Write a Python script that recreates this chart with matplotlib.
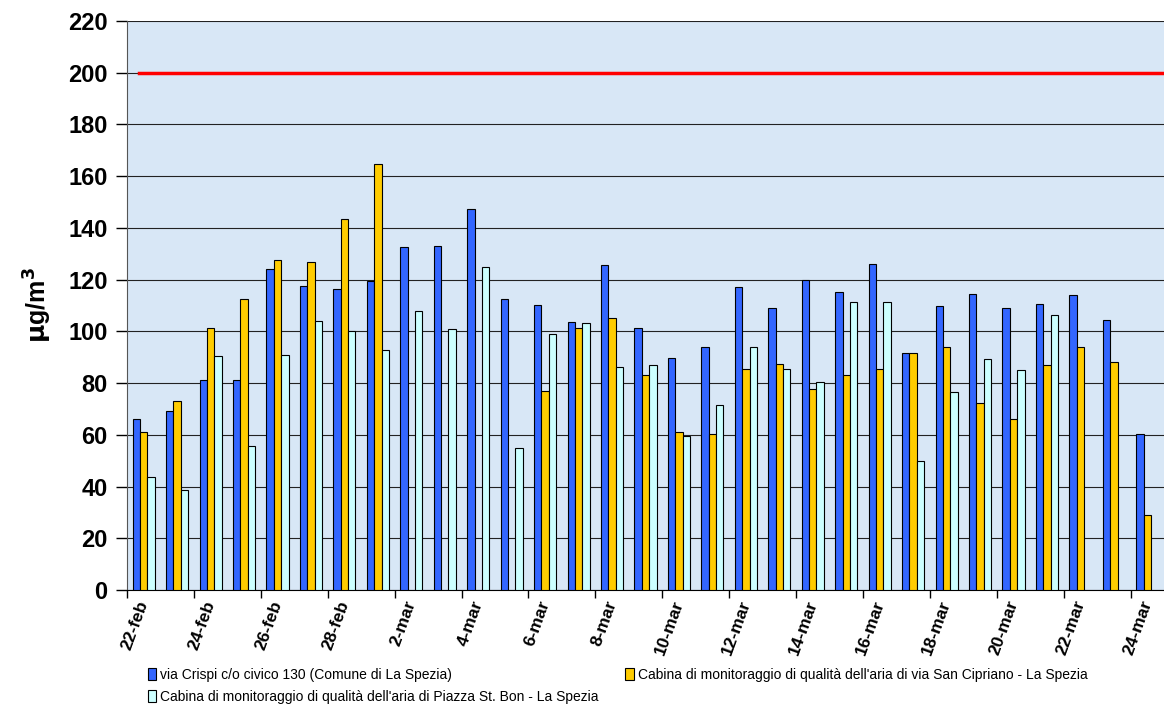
import matplotlib
matplotlib.use('Agg')
import matplotlib.pyplot as plt
import numpy as np

### dati ###
giorni = ['22-feb', '23-feb', '24-feb', '25-feb', '26-feb', '27-feb', '28-feb',
          '1-mar', '2-mar', '3-mar', '4-mar', '5-mar', '6-mar', '7-mar', '8-mar',
          '9-mar', '10-mar', '11-mar', '12-mar', '13-mar', '14-mar', '15-mar',
          '16-mar', '17-mar', '18-mar', '19-mar', '20-mar', '21-mar', '22-mar',
          '23-mar', '24-mar']

crispi = [66.0, 69.2, 81.2, 81.1, 124.0, 117.6, 116.4, 119.5, 132.6, 133.0,
          147.2, 112.4, 110.1, 103.6, 125.8, 101.2, 89.6, 93.9, 117.3, 108.9,
          119.7, 115.2, 126.2, 91.8, 109.9, 114.3, 109.0, 110.6, 114.2, 104.4,
          60.4]
cipriano = [60.9, 73.1, 101.3, 112.4, 127.6, 126.7, 143.3, 164.8, np.nan, np.nan,
            np.nan, np.nan, 77.1, 101.3, 105.2, 83.0, 61.1, 60.4, 85.6, 87.2,
            77.6, 83.1, 85.3, 91.8, 94.1, 72.3, 66.0, 87.0, 94.1, 88.0, 28.9]
stbon = [43.6, 38.7, 90.5, 55.8, 90.8, 103.9, 100.2, 92.7, 108.0, 100.8,
         124.9, 55.0, 99.1, 103.2, 86.1, 86.9, 59.6, 71.7, 93.9, 85.6,
         80.3, 111.5, 111.2, 50.0, 76.6, 89.2, 85.0, 106.2, np.nan, np.nan,
         np.nan]
limite = 200

nomi = ['via Crispi c/o civico 130 (Comune di La Spezia)',
        "Cabina di monitoraggio di qualità dell'aria di via San Cipriano - La Spezia",
        "Cabina di monitoraggio di qualità dell'aria di Piazza St. Bon - La Spezia"]
colori = ['#3366FF', '#FFCC00', '#CCFFFF']

plt.rcParams['font.family'] = ['Liberation Sans', 'DejaVu Sans']

fig = plt.figure(figsize=(11.64, 7.07), dpi=100)
ax = fig.add_axes([127/1164, 1 - 590/707, 1 - 127/1164, (590 - 21)/707])
ax.set_facecolor('#D8E7F6')

x = np.arange(len(giorni))
w = 0.22
barre = []
for i, (serie, col) in enumerate(zip([crispi, cipriano, stbon], colori)):
    b = ax.bar(x + (i - 1) * w, serie, w, color=col, edgecolor='black',
               linewidth=0.8, label=nomi[i], zorder=3)
    barre.append(b)

ax.plot([-0.15, len(giorni) - 0.5], [limite, limite], color='#FF0000', lw=2.5, zorder=4)

ax.set_xlim(-0.5, len(giorni) - 0.5)
ax.set_ylim(0, 220)
ax.set_yticks(np.arange(0, 221, 20))
ax.yaxis.grid(True, color='#222222', lw=0.8, zorder=1)
ax.tick_params(axis='y', direction='out', length=8, width=1, labelsize=17, pad=6)
for t in ax.get_yticklabels():
    t.set_fontweight('bold')

ax.set_xticks(x[::2])
ax.set_xticklabels(giorni[::2], rotation=70, ha='right', va='center',
                   rotation_mode='anchor', fontsize=12.5, fontweight='bold')
ax.tick_params(axis='x', which='major', length=0, pad=8)
ax.set_xticks(np.arange(-0.5, len(giorni), 2), minor=True)
ax.tick_params(axis='x', which='minor', direction='out', length=6, width=1)

for s in ['top', 'right']:
    ax.spines[s].set_visible(False)
ax.spines['left'].set_color('#555555')
ax.spines['bottom'].set_color('black')

ax.set_ylabel(r'$\mathbf{\mu}$g/m$^\mathbf{3}$', fontsize=18, fontweight='bold', labelpad=10)

fig.legend([barre[0], barre[2], barre[1]], [nomi[0], nomi[2], nomi[1]],
           ncol=2, loc='upper left', bbox_to_anchor=(141/1164, 1 - 661/707),
           frameon=False, fontsize=10, handlelength=0.6, handleheight=0.9,
           handletextpad=0.3, columnspacing=1.9, labelspacing=0.55, borderpad=0)

fig.savefig('out.png', dpi=100)
